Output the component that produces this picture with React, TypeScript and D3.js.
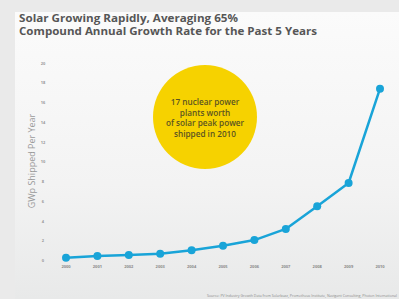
import React from "react";
import * as d3 from "d3";

const years = ["2000","2001","2002","2003","2004","2005","2006","2007","2008","2009","2010"];
const shipped = [0.28, 0.45, 0.56, 0.69, 1.03, 1.5, 2.07, 3.2, 5.5, 7.85, 17.4];
const yTicks = [0, 2, 4, 6, 8, 10, 12, 14, 16, 18, 20];
const titleLines = ["Solar Growing Rapidly, Averaging 65%", "Compound Annual Growth Rate for the Past 5 Years"];
const calloutLines = ["17 nuclear power", "plants worth", "of solar peak power", "shipped in 2010"];
const yLabel = "GWp Shipped Per Year";
const sourceText = "Source: PV Industry Growth Data from Solarbuzz, Prometheus Institute, Navigant Consulting, Photon International";

export default function App() {
  const W = 399, H = 299;
  const x = d3.scalePoint<string>().domain(years).range([66, 380]);
  const y = d3.scaleLinear().domain([0, 20]).range([260.5, 63]);
  const line = d3.line<number>().x((_, i) => x(years[i]) as number).y(d => y(d)).curve(d3.curveLinear);
  const font = "'Open Sans', 'Noto Sans', sans-serif";
  return (
    <svg width={W} height={H} style={{ position: "absolute", left: 0, top: 0 }}>
      <defs>
        <linearGradient id="panel" x1="0" y1="0" x2="0" y2="1">
          <stop offset="0" stopColor="#fbfbfb" />
          <stop offset="0.6" stopColor="#f3f3f3" />
          <stop offset="1" stopColor="#e8e9e9" />
        </linearGradient>
      </defs>
      <rect x={0} y={0} width={W} height={H} fill="#eaeaea" />
      <rect x={15} y={12} width={W - 15} height={H - 12} fill="url(#panel)" />
      {titleLines.map((t, i) => (
        <text key={t} x={19} y={22 + i * 13} fontFamily={font} fontWeight={700} fontSize={10.2}
          fill="#565656" textLength={i === 0 ? 219 : 298} lengthAdjust="spacingAndGlyphs">{t}</text>
      ))}
      <text transform={`translate(35,161) rotate(-90)`} textAnchor="middle" fontFamily={font}
        fontSize={9} fill="#9a9a9a">{yLabel}</text>
      {yTicks.map(t => (
        <text key={t} x={43} y={y(t) + 1.5} textAnchor="middle" fontFamily={font} fontSize={4}
          fontWeight={700} fill="#9a9a9a">{t}</text>
      ))}
      {years.map(yr => (
        <text key={yr} x={x(yr)} y={267.5} textAnchor="middle" fontFamily={font} fontSize={4}
          fontWeight={700} fill="#8a8a8a">{yr}</text>
      ))}
      <circle cx={205} cy={117} r={52} fill="#f6d200" />
      {calloutLines.map((t, i) => (
        <text key={t} x={205} y={105 + i * 10.7} textAnchor="middle" fontFamily={font} fontSize={8.2}
          fontWeight={600} fill="#5b5420">{t}</text>
      ))}
      <path d={line(shipped) || ""} fill="none" stroke="#19a4d8" strokeWidth={2.5} strokeLinejoin="round" />
      {shipped.map((v, i) => (
        <circle key={years[i]} cx={x(years[i])} cy={y(v)} r={4} fill="#19a4d8" />
      ))}
      <text x={207} y={297} fontFamily={font} fontSize={3} fill="#8a8a8a" textLength={190}
        lengthAdjust="spacingAndGlyphs">{sourceText}</text>
    </svg>
  );
}
